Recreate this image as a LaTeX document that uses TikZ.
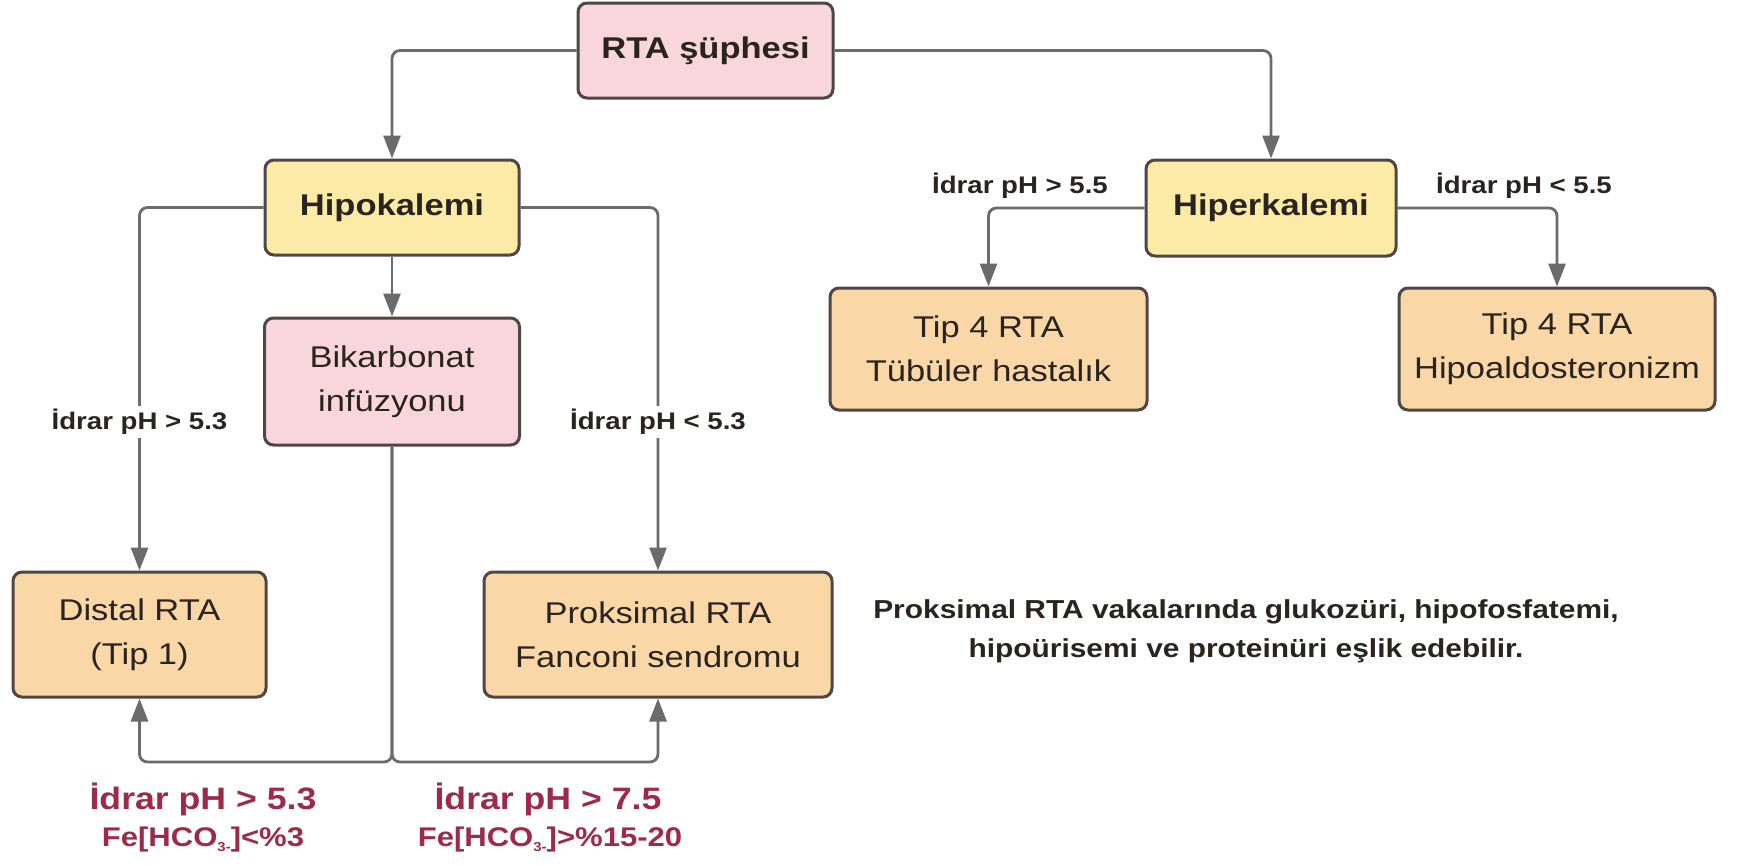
\documentclass[tikz,border=0pt]{standalone}
\usepackage{fontspec}
\setmainfont{Liberation Sans}[FakeStretch=1.15]
\usetikzlibrary{arrows.meta,calc}
\definecolor{bordc}{HTML}{4F4743}
\definecolor{connc}{HTML}{6B6B6B}
\definecolor{pinkc}{HTML}{F9D6DD}
\definecolor{yelc}{HTML}{FCEBA6}
\definecolor{peachc}{HTML}{F9D7A6}
\definecolor{redc}{HTML}{9E2A4B}
\definecolor{txtc}{HTML}{2A2420}
\tikzset{
  box/.style={draw=bordc, line width=3pt, rounded corners=9pt, align=center, text=txtc, inner sep=0pt},
  pinkbox/.style={box, fill=pinkc},
  yelbox/.style={box, fill=yelc},
  peachbox/.style={box, fill=peachc},
  hdr/.style={font=\fontsize{30}{44}\selectfont\bfseries},
  body/.style={font=\fontsize{30}{44}\selectfont},
  conn/.style={draw=connc, line width=2.8pt, rounded corners=8pt},
  arr/.style={conn, -{Triangle[length=23pt,width=17pt]}},
  lab/.style={font=\fontsize{24}{28}\selectfont\bfseries, text=txtc, inner sep=3pt},
  redlab/.style={font=\fontsize{31}{40}\selectfont\bfseries, text=redc, inner sep=0pt},
  redlab2/.style={font=\fontsize{27}{34}\selectfont\bfseries, text=redc, inner sep=0pt},
  note/.style={font=\fontsize{26}{39}\selectfont\bfseries, text=txtc, align=center, inner sep=0pt}
}
\newcommand{\hcothree}{HCO\raisebox{-0.3ex}{\fontsize{13}{13}\selectfont 3-}}
\begin{document}
\begin{tikzpicture}[x=1pt,y=-1pt]
\useasboundingbox (0,0) rectangle (1752,865);
\fill[white] (0,0) rectangle (1752,865);

\node[pinkbox, hdr, minimum width=255pt, minimum height=95pt] (top) at (705.5,50.5) {RTA şüphesi};
\node[yelbox, hdr, minimum width=254pt, minimum height=95pt] (hypo) at (392,207.5) {Hipokalemi};
\node[yelbox, hdr, minimum width=250pt, minimum height=96pt] (hyper) at (1271,208) {Hiperkalemi};
\node[pinkbox, body, minimum width=255pt, minimum height=127pt] (bik) at (392,381.5) {Bikarbonat\\infüzyonu};
\node[peachbox, body, minimum width=317pt, minimum height=122pt] (t4a) at (988.5,349) {Tip 4 RTA\\Tübüler hastalık};
\node[peachbox, body, minimum width=316pt, minimum height=122pt] (t4b) at (1557,349) {Tip 4 RTA\\Hipoaldosteronizm};
\node[peachbox, body, minimum width=253pt, minimum height=125pt] (dist) at (139.5,634.5) {Distal RTA\\(Tip 1)};
\node[peachbox, body, minimum width=348pt, minimum height=125pt] (prok) at (658,634.5) {Proksimal RTA\\Fanconi sendromu};

\coordinate (j) at (392,762);

\draw[arr] (top.west) -| (hypo.north);
\draw[arr] (top.east) -| (hyper.north);
\draw[arr] (hypo.west) -| (dist.north);
\draw[arr] (hypo.east) -| (prok.north);
\draw[arr] (hypo.south) -- (bik.north);
\draw[arr] (hyper.west) -| (t4a.north);
\draw[arr] (hyper.east) -| (t4b.north);
\draw[arr] (bik.south) -- (j) -| (dist.south);
\draw[arr] (bik.south) -- (j) -| (prok.south);

\node[lab, fill=white] (l1) at (139.5,422) {İdrar pH > 5.3};
\node[lab, fill=white] (l2) at (658,422) {İdrar pH < 5.3};
\node[lab] (l3) at (1020,186) {İdrar pH > 5.5};
\node[lab] (l4) at (1524,186) {İdrar pH < 5.5};

\node[redlab] (r1) at (203,799) {İdrar pH > 5.3};
\node[redlab2] (r2) at (203,840) {Fe[\hcothree]<\%3};
\node[redlab] (r3) at (548,799) {İdrar pH > 7.5};
\node[redlab2] (r4) at (550,840) {Fe[\hcothree]>\%15-20};

\node[note] (n) at (1246,631) {Proksimal RTA vakalarında glukozüri, hipofosfatemi,\\hipoürisemi ve proteinüri eşlik edebilir.};
\end{tikzpicture}
\end{document}
